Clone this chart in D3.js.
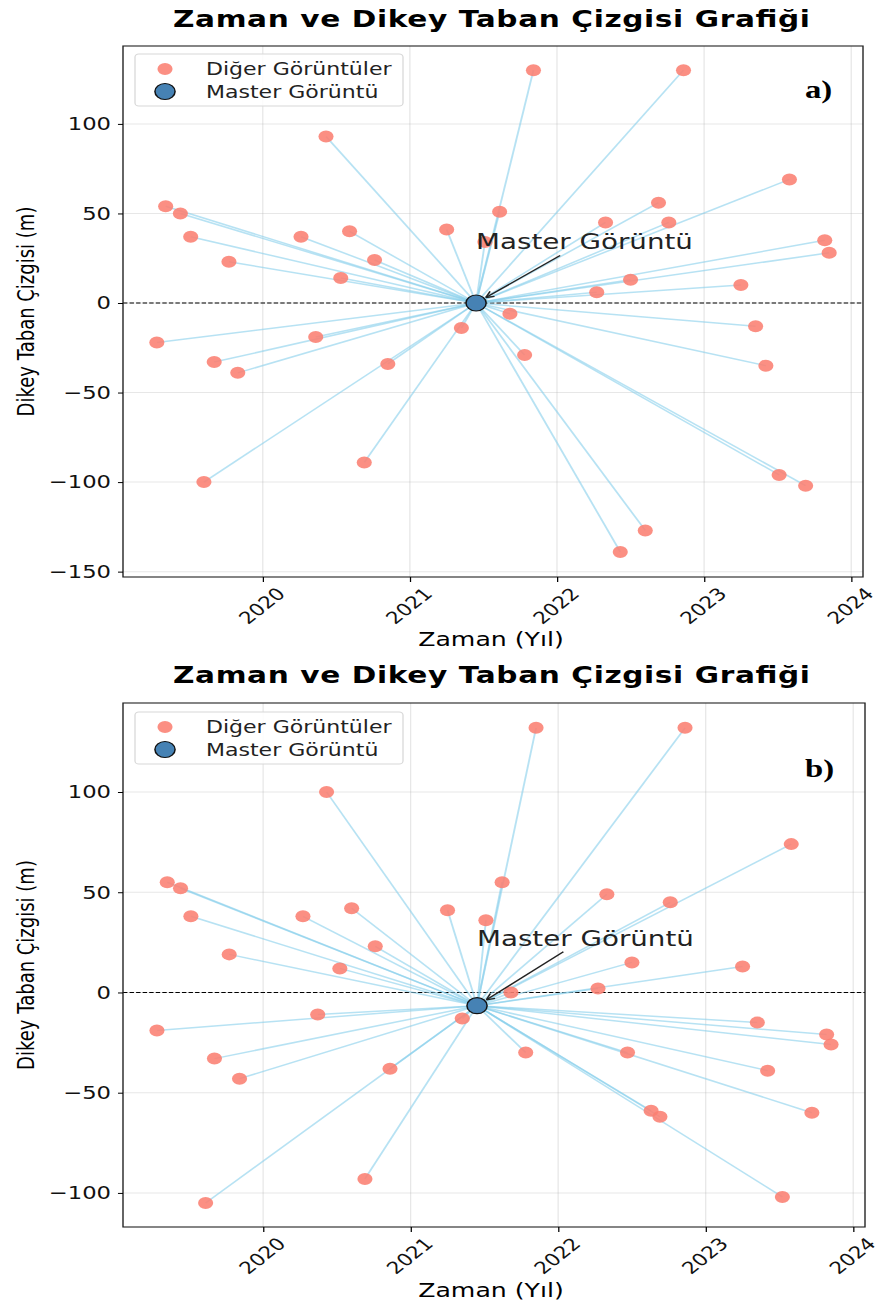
<!DOCTYPE html>
<html>
<head>
<meta charset="utf-8">
<script src="https://cdn.jsdelivr.net/npm/d3@7"></script>
<style>
	body { margin: 0; background: #fff; }
	svg { display: block; }
	text { font-family: "DejaVu Sans", sans-serif; }
</style>
</head>
<body>
<div id="chartDiv"></div>
<script>
;(function() {

	// the picture is stretched sideways, so every panel is drawn narrow and scaled
	var SX = 1.26;
	var width = 880;
	var height = 1309;

	var xDomain = [2019.05, 2024.08];
	var xTicks = [2020, 2021, 2022, 2023, 2024];

	var title = "Zaman ve Dikey Taban Çizgisi Grafiği";
	var xAxisLabel = "Zaman (Yıl)";
	var yAxisLabel = "Dikey Taban Çizgisi (m)";
	var legendLabels = ["Diğer Görüntüler", "Master Görüntü"];
	var masterLabel = "Master Görüntü";

	// panel a)
	var datesA = [
		2019.34, 2019.44, 2019.51, 2019.77, 2019.28, 2019.67, 2019.83, 2019.60,
		2020.43, 2020.26, 2020.59, 2020.53, 2020.76, 2020.36, 2020.85, 2020.69,
		2021.25, 2021.35, 2021.61, 2021.84, 2021.68, 2021.78, 2021.51,
		2022.33, 2022.69, 2022.76, 2022.86, 2022.50, 2022.27,
		2023.58, 2023.82, 2023.85, 2023.25, 2023.35, 2023.42, 2023.51, 2023.69,
		2022.60, 2022.43
	];
	var baselinesA = [
		54, 50, 37, 23, -22, -33, -39, -100,
		93, 37, 40, 14, 24, -19, -34, -89,
		41, -14, 51, 130, -6, -29, 34,
		45, 56, 45, 130, 13, 6,
		69, 35, 28, 10, -13, -35, -96, -102,
		-127, -139
	];
	var masterDateA = 2021.45;
	var masterBaselineA = 0;
	var yTicksA = [-150, -100, -50, 0, 50, 100];

	// panel b)
	var datesB = [
		2019.35, 2019.44, 2019.51, 2019.77, 2019.28, 2019.67, 2019.84, 2019.61,
		2020.43, 2020.27, 2020.60, 2020.52, 2020.76, 2020.37, 2020.86, 2020.69,
		2021.25, 2021.35, 2021.62, 2021.85, 2021.68, 2021.78, 2021.51,
		2022.33, 2022.76, 2022.86, 2022.50, 2022.27, 2023.58, 2023.25,
		2022.47, 2023.35, 2023.82, 2023.85, 2023.42, 2023.72, 2022.63, 2022.69, 2023.52
	];
	var baselinesB = [
		55, 52, 38, 19, -19, -33, -43, -105,
		100, 38, 42, 12, 23, -11, -38, -93,
		41, -13, 55, 132, 0, -30, 36,
		49, 45, 132, 15, 2, 74, 13,
		-30, -15, -21, -26, -39, -60, -59, -62, -102
	];
	var masterDateB = 2021.45;
	var masterBaselineB = -6.6;
	var yTicksB = [-100, -50, 0, 50, 100];

	var panels = [
		{ tag: "a)", dates: datesA, baselines: baselinesA, masterDate: masterDateA, masterBaseline: masterBaselineA,
			yTicks: yTicksA, yDomain: [-153, 143.5], titleY: 27, top: 46, bottom: 577, left: 123, right: 863,
			legendTop: 54, labelY: 646, tagY: 98 },
		{ tag: "b)", dates: datesB, baselines: baselinesB, masterDate: masterDateB, masterBaseline: masterBaselineB,
			yTicks: yTicksB, yDomain: [-117, 144.4], titleY: 683, top: 703, bottom: 1227, left: 123, right: 865,
			legendTop: 712, labelY: 1297, tagY: 777 }
	];

	var lineColor = "#87ceeb";
	var dotColor = "#fa8072";
	var masterColor = "#4682b4";

	var svg = d3.select("#chartDiv").append("svg")
		.attr("width", width)
		.attr("height", height);

	panels.forEach(drawPanel);

	function drawPanel(p) {
		var g = svg.append("g").attr("transform", "scale(" + SX + ",1)");

		var xScale = d3.scaleLinear().domain(xDomain).range([p.left / SX, p.right / SX]);
		var yScale = d3.scaleLinear().domain(p.yDomain).range([p.bottom, p.top]);
		var x0 = p.left / SX, x1 = p.right / SX;

		// title
		g.append("text")
			.attr("x", 491.5 / SX)
			.attr("y", p.titleY)
			.attr("text-anchor", "middle")
			.attr("textLength", 637 / SX)
			.attr("lengthAdjust", "spacing")
			.style("font-size", "23.5px")
			.style("font-weight", "bold")
			.text(title);

		// grid
		g.append("g").selectAll("line")
			.data(xTicks)
			.join("line")
				.attr("x1", function(d) { return xScale(d); })
				.attr("x2", function(d) { return xScale(d); })
				.attr("y1", p.top)
				.attr("y2", p.bottom)
				.attr("stroke", "#b0b0b0")
				.attr("stroke-opacity", 0.3);
		g.append("g").selectAll("line")
			.data(p.yTicks)
			.join("line")
				.attr("x1", x0)
				.attr("x2", x1)
				.attr("y1", function(d) { return yScale(d); })
				.attr("y2", function(d) { return yScale(d); })
				.attr("stroke", "#b0b0b0")
				.attr("stroke-opacity", 0.3);

		// zero line
		g.append("line")
			.attr("x1", x0).attr("x2", x1)
			.attr("y1", yScale(0)).attr("y2", yScale(0))
			.attr("stroke", "#000")
			.attr("stroke-width", 1)
			.attr("stroke-dasharray", "3.5,1.7");

		var mx = xScale(p.masterDate), my = yScale(p.masterBaseline);
		var pts = p.dates.map(function(d, i) { return { date: d, base: p.baselines[i] }; });

		// baselines from master
		g.append("g").selectAll("line")
			.data(pts)
			.join("line")
				.attr("x1", mx).attr("y1", my)
				.attr("x2", function(d) { return xScale(d.date); })
				.attr("y2", function(d) { return yScale(d.base); })
				.attr("stroke", lineColor)
				.attr("stroke-opacity", 0.6)
				.attr("stroke-width", 1.5);

		g.append("g").selectAll("circle")
			.data(pts)
			.join("circle")
				.attr("cx", function(d) { return xScale(d.date); })
				.attr("cy", function(d) { return yScale(d.base); })
				.attr("r", 6)
				.attr("fill", dotColor)
				.attr("fill-opacity", 0.88);

		g.append("circle")
			.attr("cx", mx).attr("cy", my)
			.attr("r", 8)
			.attr("fill", masterColor)
			.attr("stroke", "#111")
			.attr("stroke-width", 1.2);

		// annotation
		var ann = g.append("text")
			.attr("x", mx)
			.attr("y", yScale(p.masterBaseline + 30))
			.style("font-size", "22px")
			.attr("fill", "#222")
			.text(masterLabel);
		var bb = ann.node().getBBox();
		var cx = bb.x + bb.width / 2, cy = bb.y + bb.height / 2;
		var ybot = bb.y + bb.height + 1;
		var t = (ybot - cy) / (my - cy);
		var sx0 = cx + (mx - cx) * t, sy0 = ybot;
		var dx = mx - sx0, dy = my - sy0, len = Math.sqrt(dx * dx + dy * dy);
		var ux = dx / len, uy = dy / len;
		var tx = mx - ux * 9.5, ty = my - uy * 9.5;
		g.append("line")
			.attr("x1", sx0).attr("y1", sy0).attr("x2", tx).attr("y2", ty)
			.attr("stroke", "#222").attr("stroke-width", 1.3);
		[-0.45, 0.45].forEach(function(a) {
			var c = Math.cos(a), s = Math.sin(a);
			var hx = -(ux * c - uy * s), hy = -(ux * s + uy * c);
			g.append("line")
				.attr("x1", tx).attr("y1", ty)
				.attr("x2", tx + hx * 7).attr("y2", ty + hy * 7)
				.attr("stroke", "#222").attr("stroke-width", 1.3);
		});

		// frame
		g.append("rect")
			.attr("x", x0).attr("y", p.top)
			.attr("width", x1 - x0).attr("height", p.bottom - p.top)
			.attr("fill", "none")
			.attr("stroke", "#222")
			.attr("stroke-width", 1.1);

		// y axis
		var yAxis = d3.axisLeft(yScale)
			.tickValues(p.yTicks)
			.tickSize(4)
			.tickPadding(5.5);
		var ya = g.append("g")
			.attr("transform", "translate(" + x0 + ",0)")
			.call(yAxis);
		ya.select(".domain").remove();
		ya.selectAll("text").style("font-size", "18px").attr("fill", "#111").style("font-family", "DejaVu Sans");

		// x axis
		var xAxis = d3.axisBottom(xScale)
			.tickValues(xTicks)
			.tickSize(5)
			.tickFormat(d3.format("d"));
		var xa = g.append("g")
			.attr("transform", "translate(0," + p.bottom + ")")
			.call(xAxis);
		xa.select(".domain").remove();
		xa.selectAll("text")
			.style("font-size", "17px")
			.style("font-family", "DejaVu Sans")
			.attr("fill", "#111")
			.attr("y", 0)
			.attr("dy", null)
			.attr("text-anchor", "middle")
			.attr("dominant-baseline", "central")
			.attr("transform", "translate(-1,29) rotate(-45)");

		// axis labels
		g.append("text")
			.attr("x", 491 / SX)
			.attr("y", p.labelY)
			.attr("text-anchor", "middle")
			.style("font-size", "20px")
			.text(xAxisLabel);

		g.append("text")
			.attr("text-anchor", "middle")
			.attr("transform", "translate(" + 27 + "," + ((p.top + p.bottom) / 2) + ") rotate(-90)")
			.style("font-size", "18px")
			.text(yAxisLabel);

		// legend
		var lg = g.append("g");
		lg.append("rect")
			.attr("x", 135 / SX).attr("y", p.legendTop)
			.attr("width", (403 - 135) / SX).attr("height", 52)
			.attr("rx", 3)
			.attr("fill", "#fff").attr("fill-opacity", 0.85)
			.attr("stroke", "#d8d8d8");
		lg.append("circle")
			.attr("cx", 165 / SX).attr("cy", p.legendTop + 15)
			.attr("r", 6)
			.attr("fill", dotColor).attr("fill-opacity", 0.88);
		lg.append("circle")
			.attr("cx", 165 / SX).attr("cy", p.legendTop + 37.5)
			.attr("r", 8)
			.attr("fill", masterColor)
			.attr("stroke", "#111").attr("stroke-width", 1.2);
		lg.selectAll(".legtext")
			.data(legendLabels)
			.join("text")
				.attr("class", "legtext")
				.attr("x", 206 / SX)
				.attr("y", function(d, i) { return p.legendTop + 21.5 + i * 22.5; })
				.style("font-size", "17.5px")
				.attr("fill", "#222")
				.text(function(d) { return d; });

		// panel tag
		g.append("text")
			.attr("x", 805 / SX)
			.attr("y", p.tagY)
			.style("font-family", "'Liberation Serif', 'Times New Roman', serif")
			.style("font-size", "26px")
			.style("font-weight", "bold")
			.text(p.tag);
	}

})();
</script>
</body>
</html>
